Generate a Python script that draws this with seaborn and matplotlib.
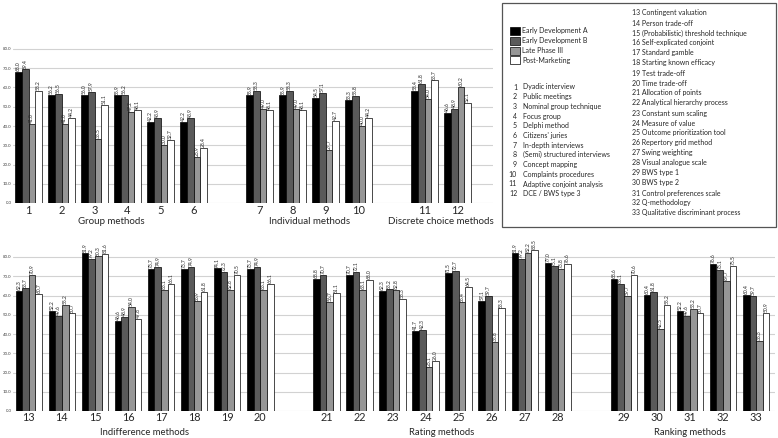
import numpy as np
import pandas as pd
import seaborn as sns
import matplotlib.pyplot as plt
from matplotlib.patches import Rectangle

phases = ["Early Development A", "Early Development B", "Late Phase III", "Post-Marketing"]
phaseColors = ["#000000", "#5a5a5a", "#969696", "#ffffff"]

# top panel, methods 1-12
topMethods = [str(i) for i in range(1, 13)]
topEarlyA = [68.0, 56.2, 56.0, 55.9, 42.2, 42.2, 55.9, 55.9, 54.5, 53.3, 58.4, 46.6]
topEarlyB = [69.4, 56.5, 57.9, 56.2, 43.9, 43.9, 58.3, 58.3, 57.1, 55.8, 61.8, 48.9]
topLate = [41.0, 41.0, 33.5, 47.2, 30.0, 23.9, 49.0, 49.0, 27.7, 40.0, 54.0, 60.2]
topPost = [58.2, 44.2, 51.1, 48.1, 32.7, 28.4, 48.1, 48.1, 42.7, 44.2, 63.7, 52.1]
topOrder = ["1", "2", "3", "4", "5", "6", "gap1", "7", "8", "9", "10", "gap2", "11", "12"]
topGroups = [("Group methods", ["1", "6"]),
             ("Individual methods", ["7", "10"]),
             ("Discrete choice methods", ["11", "12"])]

# bottom panel, methods 13-33
botMethods = [str(i) for i in range(13, 34)]
botEarlyA = [62.3, 52.2, 81.9, 46.6, 73.7, 73.7, 74.1, 73.7, 68.8, 70.7, 62.3, 41.7, 71.5, 57.1, 81.9, 77.0,
             68.6, 60.4, 52.2, 76.6, 60.4]
botEarlyB = [63.7, 49.6, 79.2, 48.9, 74.9, 74.9, 72.3, 74.9, 70.7, 72.1, 63.2, 42.3, 72.7, 59.7, 79.2, 75.1,
             66.1, 61.8, 49.6, 73.1, 59.7]
botLate = [70.9, 55.2, 80.3, 54.0, 63.1, 56.9, 62.8, 63.1, 56.7, 63.1, 62.8, 23.1, 56.4, 35.8, 82.2, 73.8,
           59.7, 42.5, 53.2, 67.7, 36.3]
botPost = [60.7, 50.7, 81.6, 47.8, 66.1, 61.8, 70.5, 66.1, 61.1, 68.0, 58.3, 26.0, 64.5, 53.3, 83.5, 76.6,
           70.6, 55.2, 50.7, 75.5, 50.9]
botOrder = ["13", "14", "15", "16", "17", "18", "19", "20", "gap1",
            "21", "22", "23", "24", "25", "26", "27", "28", "gap2",
            "29", "30", "31", "32", "33"]
botGroups = [("Indifference methods", ["13", "20"]),
             ("Rating methods", ["21", "28"]),
             ("Ranking methods", ["29", "33"])]

methodNames = ["Dyadic interview", "Public meetings", "Nominal group technique", "Focus group",
               "Delphi method", "Citizens' juries", "In-depth interviews", "(Semi) structured interviews",
               "Concept mapping", "Complaints procedures", "Adaptive conjoint analysis", "DCE / BWS type 3",
               "Contingent valuation", "Person trade-off", "(Probabilistic) threshold technique",
               "Self-explicated conjoint", "Standard gamble", "Starting known efficacy", "Test trade-off",
               "Time trade-off", "Allocation of points", "Analytical hierarchy process",
               "Constant sum scaling", "Measure of value", "Outcome prioritization tool",
               "Repertory grid method", "Swing weighting", "Visual analogue scale", "BWS type 1",
               "BWS type 2", "Control preferences scale", "Q-methodology", "Qualitative discriminant process"]

W, H = 778, 438


def toLong(methods, series):
    rows = []
    for phase, vals in zip(phases, series):
        for m, v in zip(methods, vals):
            rows.append((m, phase, v))
    return pd.DataFrame(rows, columns=["method", "phase", "score"])


def drawPanel(ax, df, order, groups, xlim, tickSize, tickPad, groupSize, groupOffset):
    sns.barplot(data=df, x="method", y="score", hue="phase", order=order, hue_order=phases,
                palette=phaseColors, saturation=1, edgecolor="black", linewidth=0.5,
                width=0.8, errorbar=None, legend=False, ax=ax)
    for c in ax.containers:
        ax.bar_label(c, fmt="%.1f", rotation=90, fontsize=3.6, padding=0.6)
    ax.set_xticks(range(len(order)))
    ax.set_xticklabels(["" if o.startswith("gap") else o for o in order])
    ax.tick_params(axis="x", length=0, pad=tickPad, labelsize=tickSize)
    ax.set_yticks(range(0, 81, 10))
    ax.set_yticklabels(["%.1f" % v for v in range(0, 81, 10)])
    ax.tick_params(axis="y", length=0, pad=1, labelsize=3.2, labelcolor="#404040")
    ax.set_ylim(0, 88)
    ax.set_xlim(*xlim)
    ax.set_xlabel("")
    ax.set_ylabel("")
    ax.yaxis.grid(True, color="#d2d2d2", linewidth=0.8)
    ax.xaxis.grid(False)
    ax.set_axisbelow(True)
    for s in ax.spines.values():
        s.set_visible(False)
    for label, (first, last) in groups:
        center = (order.index(first) + order.index(last)) / 2
        ax.annotate(label, xy=(center, 0), xycoords=("data", "axes fraction"),
                    xytext=(0, -groupOffset), textcoords="offset pixels",
                    ha="center", va="center", fontsize=groupSize)


sns.set_style("whitegrid")
plt.rcParams["font.family"] = ["Lato", "DejaVu Sans"]

fig = plt.figure(figsize=(W / 100, H / 100), dpi=100)
axTop = fig.add_axes([13 / W, (H - 203) / H, 480 / W, 169.4 / H])
axBot = fig.add_axes([13 / W, (H - 411) / H, 762 / W, 169.4 / H])

drawPanel(axTop, toLong(topMethods, [topEarlyA, topEarlyB, topLate, topPost]),
          topOrder, topGroups, (-0.47, 14.07), 8, 1.2, 7, 19)
drawPanel(axBot, toLong(botMethods, [botEarlyA, botEarlyB, botLate, botPost]),
          botOrder, botGroups, (-0.48, 22.57), 7.8, 0.6, 6.8, 21.5)

# legend box
fig.patches.append(Rectangle((502 / W, (H - 227) / H), 274 / W, 224 / H, transform=fig.transFigure,
                             fill=False, edgecolor="#555555", linewidth=0.9))
handles = [Rectangle((0, 0), 1, 1, facecolor=c, edgecolor="black", linewidth=0.5) for c in phaseColors]
fig.legend(handles, phases, loc="upper left", bbox_to_anchor=(510 / W, 1 - 27 / H), frameon=False,
           fontsize=5, handlelength=1.45, handleheight=1.4, handletextpad=0.3, labelspacing=0.25,
           borderpad=0, borderaxespad=0)

for i in range(12):
    y = 1 - (87 + i * 9.7) / H
    fig.text(517 / W, y, str(i + 1), ha="right", va="center", fontsize=5)
    fig.text(523 / W, y, methodNames[i], ha="left", va="center", fontsize=5)
for i in range(12, 33):
    y = 1 - (13 + (i - 12) * 10) / H
    fig.text(632 / W, y, "%d %s" % (i + 1, methodNames[i]), ha="left", va="center", fontsize=5)

fig.savefig("out.png", dpi=100)
